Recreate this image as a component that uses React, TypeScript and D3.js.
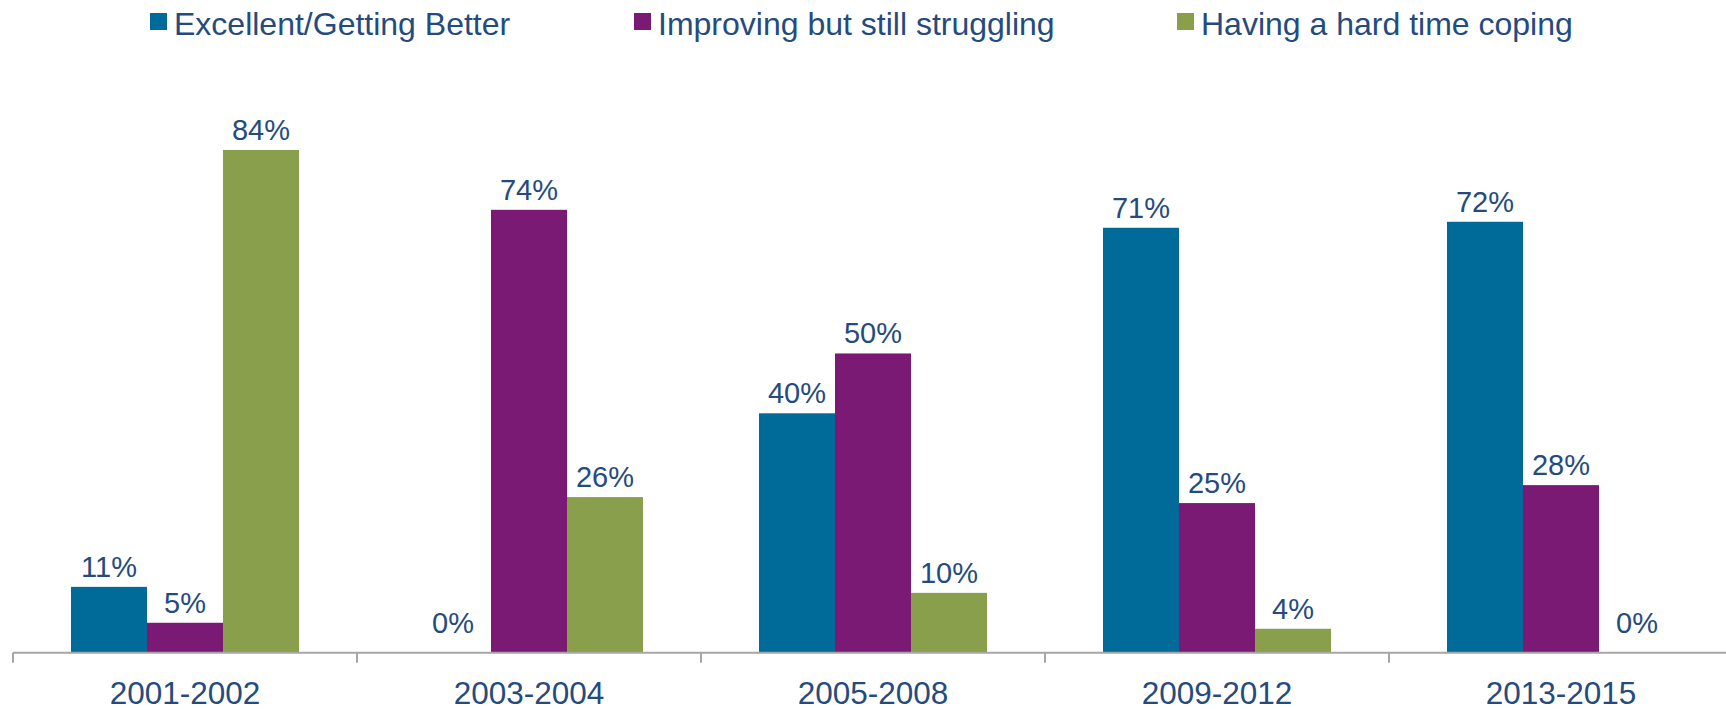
import React from "react";
import * as d3 from "d3";

const categories = ["2001-2002", "2003-2004", "2005-2008", "2009-2012", "2013-2015"];
const seriesNames = ["Excellent/Getting Better", "Improving but still struggling", "Having a hard time coping"];
const excellent = [11, 0, 40, 71, 72];
const improving = [5, 74, 50, 25, 28];
const hardTime = [84, 26, 10, 4, 0];
const seriesValues = [excellent, improving, hardTime];
const colors = ["#006A98", "#7A1A74", "#8A9F4C"];

const W = 1726;
const H = 710;
const TEXT = "#254B7E";
const FONT = "'Liberation Sans', Arial, sans-serif";

export default function App() {
  const x0 = 13;
  const step = 344;
  const x = d3.scaleBand<string>().domain(categories).range([x0, x0 + step * categories.length]).paddingInner(0).paddingOuter(0);
  const xs = d3.scaleBand<number>().domain([0, 1, 2]).range([58, step - 58]).padding(0);
  const axisY = 652.7;
  const y = d3.scaleLinear().domain([0, 100]).range([axisY, axisY - 598.5]);
  const legendX = [150, 634, 1177];
  const ticks = d3.range(categories.length + 1).map((i) => x0 + i * step);

  return (
    <svg width={W} height={H} style={{ position: "absolute", left: 0, top: 0, display: "block" }}>
      <rect width={W} height={H} fill="#fff" />
      {seriesNames.map((n, i) => (
        <g key={n}>
          <rect x={legendX[i]} y={13} width={17} height={17} fill={colors[i]} />
          <text x={legendX[i] + 24} y={35} fontFamily={FONT} fontSize={32} fill={TEXT}>{n}</text>
        </g>
      ))}
      {categories.map((c, ci) => (
        <g key={c} transform={`translate(${x(c)},0)`}>
          {seriesValues.map((vals, si) => {
            const v = vals[ci];
            const bx = xs(si)!;
            const bw = xs.bandwidth();
            const ly = v === 0 ? axisY - 20 : y(v) - 10;
            return (
              <g key={si}>
                {v > 0 && <rect x={bx} y={y(v)} width={bw} height={axisY - y(v)} fill={colors[si]} />}
                <text x={bx + bw / 2} y={ly} textAnchor="middle" fontFamily={FONT} fontSize={29} fill={TEXT}>{v}%</text>
              </g>
            );
          })}
          <text x={step / 2} y={704} textAnchor="middle" fontFamily={FONT} fontSize={31.5} fill={TEXT}>{c}</text>
        </g>
      ))}
      <line x1={x0} x2={x0 + step * categories.length} y1={axisY} y2={axisY} stroke="#A6A6A6" strokeWidth={2} />
      {ticks.map((t) => (
        <line key={t} x1={t} x2={t} y1={axisY} y2={axisY + 10} stroke="#A6A6A6" strokeWidth={2} />
      ))}
    </svg>
  );
}
